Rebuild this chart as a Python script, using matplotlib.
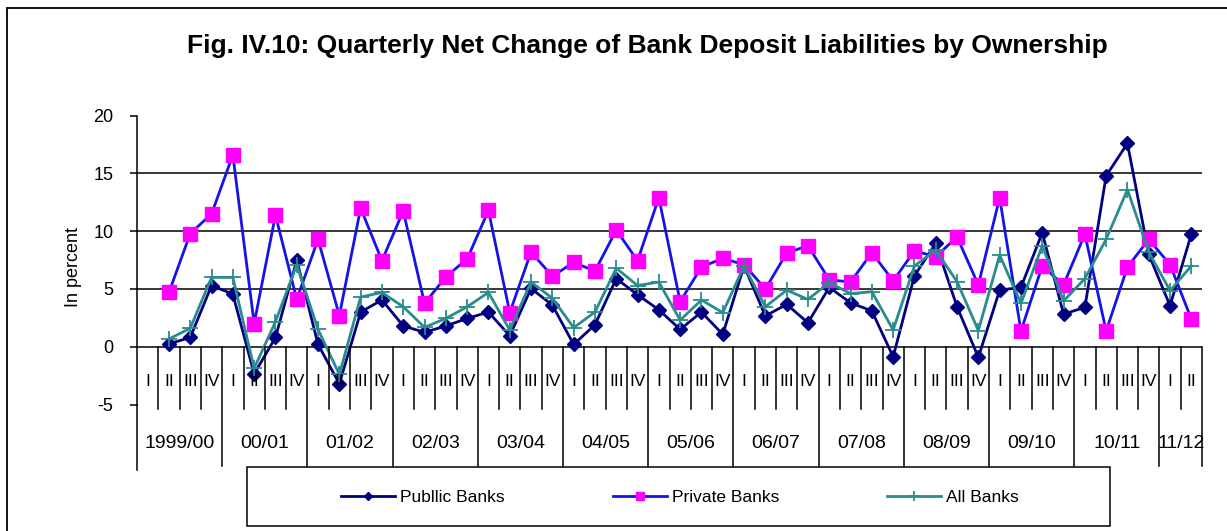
import numpy as np
import matplotlib
matplotlib.use("Agg")
import matplotlib.pyplot as plt
from matplotlib.lines import Line2D
from matplotlib.patches import Rectangle
from matplotlib.transforms import blended_transform_factory

plt.rcParams["font.family"] = ["Liberation Sans", "DejaVu Sans"]
plt.rcParams["axes.unicode_minus"] = False

# Quarterly net change (%) from 1999/00 Q2 to 2011/12 Q2
public_banks = [0.25, 0.8, 5.3, 4.55,
                -2.35, 0.8, 7.5, 0.2,
                -3.2, 3.0, 4.05, 1.8,
                1.25, 1.8, 2.45, 3.0,
                0.95, 5.05, 3.6, 0.2,
                1.9, 5.9, 4.5, 3.2,
                1.5, 3.0, 1.07, 7.0,
                2.66, 3.67, 2.08, 5.14,
                3.8, 3.1, -0.87, 6.15,
                8.95, 3.46, -0.92, 4.9,
                5.14, 9.87, 2.83, 3.4,
                14.8, 17.6, 8.0, 3.55,
                9.75]
private_banks = [4.7, 9.8, 11.5, 16.6,
                 2.0, 11.4, 4.1, 9.3,
                 2.7, 12.0, 7.45, 11.75,
                 3.75, 6.05, 7.6, 11.8,
                 2.95, 8.2, 6.1, 7.3,
                 6.55, 10.1, 7.45, 12.9,
                 3.9, 6.9, 7.65, 7.1,
                 5.0, 8.1, 8.75, 5.8,
                 5.6, 8.15, 5.7, 8.3,
                 7.8, 9.5, 5.35, 12.9,
                 1.36, 7.0, 5.35, 9.75,
                 1.36, 6.9, 9.3, 7.1,
                 2.4]
all_banks = [0.67, 1.6, 6.0, 6.0,
             -1.87, 2.17, 7.1, 1.5,
             -2.4, 4.3, 4.7, 3.46,
             1.68, 2.45, 3.46, 4.7,
             1.45, 5.6, 4.2, 1.65,
             3.0, 6.8, 5.3, 5.6,
             2.3, 4.05, 2.95, 7.0,
             3.46, 4.9, 4.1, 5.55,
             4.6, 4.76, 1.45, 7.0,
             8.37, 5.63, 1.4, 7.94,
             3.75, 8.75, 3.96, 5.9,
             9.3, 13.6, 8.2, 4.85,
             7.0]

years = ["1999/00", "00/01", "01/02", "02/03", "03/04", "04/05",
         "05/06", "06/07", "07/08", "08/09", "09/10", "10/11", "11/12"]
quarters = ["I", "II", "III", "IV"]

# every year has four quarter slots, the last one only two
n_slots = 4 * (len(years) - 1) + 2
x = np.arange(1, n_slots)  # the first slot (1999/00 I) has no value

W, H = 1227, 531
fig = plt.figure(figsize=(W / 100, H / 100), dpi=100)


def fx(px):
    return px / W


def fy(py):
    return 1 - py / H


ax = fig.add_axes([fx(137), fy(404.5), fx(1202) - fx(137), fy(115.7) - fy(404.5)])
ax.set_xlim(-0.5, n_slots - 0.5)
ax.set_ylim(-5, 20)

for v in [5, 10, 15]:
    ax.axhline(v, color="black", lw=1.1, zorder=1)
ax.axhline(0, color="black", lw=1.1, zorder=1)

l_pub, = ax.plot(x, public_banks, color="#000080", lw=2, marker="D", ms=7,
                 zorder=3, clip_on=False)
l_pri, = ax.plot(x, private_banks, color="#1414e6", lw=2, marker="s", ms=10,
                 mfc="#ff00ff", mec="#ff00ff", zorder=3, clip_on=False)
l_all, = ax.plot(x, all_banks, color="#2a8c8c", lw=2, marker="+", ms=11,
                 mew=1.3, zorder=4, clip_on=False)

for s in ["top", "right", "bottom"]:
    ax.spines[s].set_visible(False)
ax.spines["left"].set_linewidth(1.1)
ax.set_xticks([])
ax.set_yticks([-5, 0, 5, 10, 15, 20])
ax.tick_params(axis="y", direction="out", length=5, width=1.1, pad=12,
               labelsize=13, colors="black")

# category axis drawn below the zero line
tr = blended_transform_factory(ax.transData, fig.transFigure)
y0 = fy(346.7)
for k in range(1, n_slots):
    if k % 4 == 0:
        continue
    fig.add_artist(Line2D([k - 0.5, k - 0.5], [y0, fy(409)], transform=tr,
                          color="black", lw=1.1))
year_edges = list(range(4, n_slots, 4)) + [n_slots]
for e in year_edges:
    fig.add_artist(Line2D([e - 0.5, e - 0.5], [y0, fy(466)], transform=tr,
                          color="black", lw=1.1))
fig.add_artist(Line2D([-0.5, -0.5], [fy(404.5), fy(470)], transform=tr,
                      color="black", lw=1.1))

for k in range(n_slots):
    fig.text(k, fy(382), quarters[k % 4], transform=tr, ha="center",
             va="center", fontsize=12.5)
for j, yr in enumerate(years):
    start = 4 * j
    end = min(start + 4, n_slots)
    fig.text((start + end - 1) / 2, fy(443), yr, transform=tr, ha="center",
             va="center", fontsize=14)

fig.text(fx(73), fy(267), "In percent", rotation=90, ha="center",
         va="center", fontsize=13)
fig.text(fx(647), fy(46), "Fig. IV.10: Quarterly Net Change of Bank Deposit "
         "Liabilities by Ownership", ha="center", va="center", fontsize=19,
         fontweight="bold")

fig.legend([l_pub, l_pri, l_all], ["Publlic Banks", "Private Banks", "All Banks"],
           loc="center", bbox_to_anchor=(fx(680), fy(497)), ncol=3,
           frameon=False, fontsize=12.5, handlelength=3.1, handletextpad=0.3,
           columnspacing=6.2, markerscale=0.6)
fig.add_artist(Rectangle((fx(247), fy(526)), fx(1110) - fx(247),
                         fy(467) - fy(526), transform=fig.transFigure,
                         fill=False, ec="black", lw=1.1))

# outer frame of the chart
fig.add_artist(Rectangle((fx(7), fy(560)), fx(1300), fy(8) - fy(560),
                         transform=fig.transFigure, fill=False, ec="black",
                         lw=1.3))

fig.savefig("out.png", dpi=100)
